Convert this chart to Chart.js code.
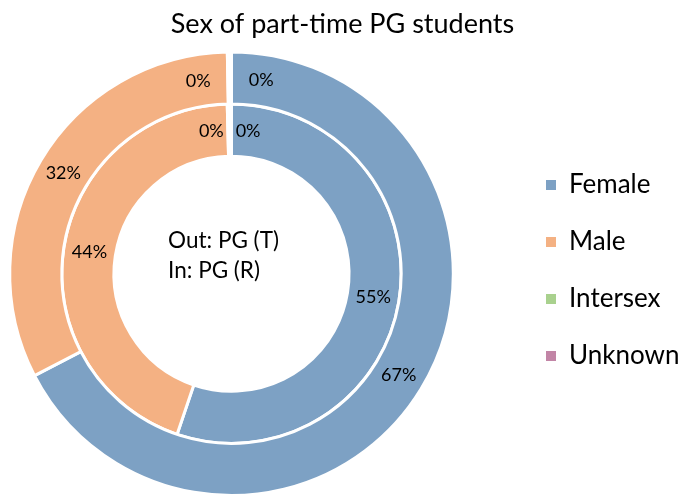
<!DOCTYPE html>
<html><head><meta charset="utf-8">
<script src="https://cdn.jsdelivr.net/npm/chart.js@4/dist/chart.umd.min.js"></script>
<style>html,body{margin:0;padding:0;background:#fff;}</style>
</head><body>
<canvas id="c" width="685" height="497"></canvas>
<script>
const chartTitle = 'Sex of part-time PG students';
const categories = ['Female', 'Male', 'Intersex', 'Unknown'];
const outerName = 'PG (T)';
const innerName = 'PG (R)';
const outerValues = [67.4, 32.3, 0.15, 0.15];
const innerValues = [55.2, 44.4, 0.2, 0.2];
const sliceColors = ['#7da1c4', '#f4b183', '#a9d18e', '#c285a6'];

const FONT = 'Lato';
const LEGEND_WIDTH = 222;
const LEGEND_SHIFT_X = 52;
const LEGEND_SHIFT_Y = 22;
const ZERO_SPREAD = [9 * Math.PI / 180, 7 * Math.PI / 180];

const legendFitPlugin = {
  id: 'legendFit',
  beforeInit(chart) {
    const fit = chart.legend.fit;
    chart.legend.fit = function () { fit.call(this); this.width = LEGEND_WIDTH; };
  },
  afterLayout(chart) {
    const lg = chart.legend;
    lg.left += LEGEND_SHIFT_X; lg.right += LEGEND_SHIFT_X;
    lg.top += LEGEND_SHIFT_Y; lg.bottom += LEGEND_SHIFT_Y;
  }
};

const sliceLabels = {
  id: 'sliceLabels',
  afterDatasetsDraw(chart) {
    const ctx = chart.ctx;
    ctx.save();
    ctx.font = '18px ' + FONT;
    ctx.fillStyle = '#000';
    ctx.textAlign = 'center';
    ctx.textBaseline = 'middle';
    chart.data.datasets.forEach((ds, di) => {
      const meta = chart.getDatasetMeta(di);
      let zeros = 0;
      meta.data.forEach((arc, i) => {
        const v = ds.data[i];
        const txt = Math.round(v) + '%';
        const p = arc.getProps(['x', 'y', 'startAngle', 'endAngle', 'innerRadius', 'outerRadius'], true);
        let ang = (p.startAngle + p.endAngle) / 2;
        const r = (p.innerRadius + p.outerRadius) / 2;
        if (Math.round(v) === 0) { ang += (zeros === 0 ? -1 : 1) * ZERO_SPREAD[di]; zeros++; }
        ctx.fillText(txt, p.x + r * Math.cos(ang), p.y + r * Math.sin(ang));
      });
    });
    ctx.restore();
  }
};

const centerText = {
  id: 'centerText',
  afterDraw(chart) {
    const ctx = chart.ctx;
    const arc = chart.getDatasetMeta(0).data[0];
    const cx = arc.x, cy = arc.y;
    const lines = ['Out: ' + outerName, 'In: ' + innerName];
    ctx.save();
    ctx.font = '22.5px ' + FONT;
    ctx.fillStyle = '#000';
    ctx.textAlign = 'left';
    ctx.textBaseline = 'middle';
    const w = Math.max(...lines.map(l => ctx.measureText(l).width));
    const x0 = cx - w / 2 - 8;
    ctx.fillText(lines[0], x0, cy - 33);
    ctx.fillText(lines[1], x0, cy - 3);
    ctx.restore();
  }
};

new Chart(document.getElementById('c'), {
  type: 'doughnut',
  data: {
    labels: categories,
    datasets: [
      { label: outerName, data: outerValues, backgroundColor: sliceColors, borderColor: '#ffffff', borderWidth: 3 },
      { label: innerName, data: innerValues, backgroundColor: sliceColors, borderColor: '#ffffff', borderWidth: 3 }
    ]
  },
  options: {
    responsive: false,
    animation: false,
    cutout: '53%',
    layout: { padding: 0 },
    plugins: {
      title: {
        display: true, text: chartTitle, color: '#000',
        font: { family: FONT, size: 27, weight: 'normal' },
        padding: { top: 8, bottom: 10 }
      },
      legend: {
        position: 'right',
        labels: {
          boxWidth: 10, boxHeight: 10, padding: 31, color: '#000',
          font: { family: FONT, size: 26 },
          generateLabels(chart) {
            const items = Chart.overrides.doughnut.plugins.legend.labels.generateLabels(chart);
            items.forEach(it => { it.lineWidth = 0; it.strokeStyle = 'rgba(0,0,0,0)'; });
            return items;
          }
        }
      },
      tooltip: { enabled: false }
    }
  },
  plugins: [legendFitPlugin, sliceLabels, centerText]
});
</script>
</body></html>
